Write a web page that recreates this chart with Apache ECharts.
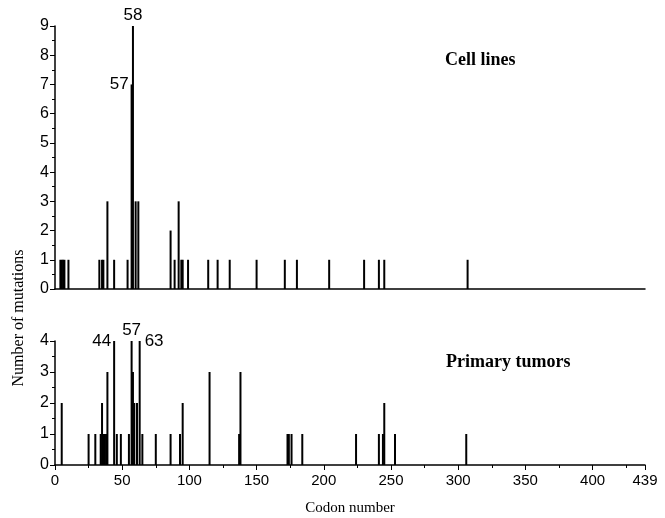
<!DOCTYPE html>
<html>
<head>
<meta charset="utf-8">
<script src="https://cdn.jsdelivr.net/npm/echarts@6/dist/echarts.min.js"></script>
<style>
  html, body { margin: 0; padding: 0; background: #fff; }
  #mutations { width: 665px; height: 518px; }
</style>
</head>
<body>
<div id="mutations"></div>
<script>
// codon positions and mutation counts
var cellCodons = [4, 5, 6, 7, 10, 33, 35, 36, 39, 44, 54, 57, 58, 60, 62, 86, 89, 92, 94, 95, 99, 114, 121, 130, 150, 171, 180, 204, 230, 241, 245, 307];
var cellCounts = [1, 1, 1, 1, 1, 1, 1, 1, 3, 1, 1, 7, 9, 3, 3, 2, 1, 3, 1, 1, 1, 1, 1, 1, 1, 1, 1, 1, 1, 1, 1, 1];
var tumorCodons = [5, 25, 30, 34, 35, 36, 37, 38, 39, 44, 46, 49, 55, 57, 58, 59, 61, 63, 65, 75, 86, 93, 95, 115, 137, 138, 173, 174, 176, 184, 224, 241, 244, 245, 253, 306];
var tumorCounts = [2, 1, 1, 1, 2, 1, 1, 1, 3, 4, 1, 1, 1, 4, 3, 2, 2, 4, 1, 1, 1, 1, 2, 3, 1, 3, 1, 1, 1, 1, 1, 1, 1, 2, 1, 1];
var cellLabelled = [57, 58];
var tumorLabelled = [44, 57, 63];
var xTicks = [0, 50, 100, 150, 200, 250, 300, 350, 400, 439];

var sansFont = '"Liberation Sans", Arial, sans-serif';
var serifFont = '"Liberation Serif", "Times New Roman", serif';

// where the codon number sits next to a tall bar
var labelSpots = {
    cell: { 57: 'left', 58: 'top' },
    tumor: { 44: 'left', 57: 'top', 63: 'right' }
};

function buildBars(codons, counts, labelled, spots) {
    return codons.map(function (c, i) {
        var item = { value: [c, counts[i]] };
        if (labelled.indexOf(c) >= 0) {
            var spot = spots[c];
            var lbl = {
                show: true,
                formatter: String(c),
                color: '#000',
                fontSize: 17,
                fontFamily: sansFont
            };
            if (spot === 'top') {
                lbl.position = 'top';
                lbl.distance = 2;
            } else if (spot === 'left') {
                lbl.position = [-2, 0];
                lbl.align = 'right';
                lbl.verticalAlign = 'middle';
            } else {
                lbl.position = [6, 0];
                lbl.align = 'left';
                lbl.verticalAlign = 'middle';
            }
            item.label = lbl;
        }
        return item;
    });
}

var chart = echarts.init(document.getElementById('mutations'));

function yAxisStyle(max) {
    return {
        type: 'value',
        min: 0,
        max: max,
        interval: 1,
        axisLine: { show: true, lineStyle: { color: '#000', width: 1.5 } },
        axisTick: { show: true, length: 5, lineStyle: { color: '#000' } },
        minorTick: { show: true, splitNumber: 2, length: 3, lineStyle: { color: '#000' } },
        axisLabel: { color: '#000', fontSize: 16, fontFamily: sansFont, margin: 6 },
        splitLine: { show: false }
    };
}

function getOption() {
    return {
        backgroundColor: '#fff',
        animation: false,
        grid: [
            { left: 55, right: 20, top: 26, height: 263 },
            { left: 55, right: 20, top: 341, height: 124 }
        ],
        xAxis: [
            {
                type: 'value',
                gridIndex: 0,
                min: 0,
                max: 439,
                interval: 50,
                axisLine: { show: true, onZero: false, lineStyle: { color: '#000', width: 1.5 } },
                axisTick: { show: false },
                axisLabel: { show: false },
                splitLine: { show: false }
            },
            {
                type: 'value',
                gridIndex: 1,
                min: 0,
                max: 439,
                interval: 50,
                axisLine: { show: true, onZero: false, lineStyle: { color: '#000', width: 1.5 } },
                axisTick: { show: true, length: 5, lineStyle: { color: '#000' } },
                minorTick: { show: true, splitNumber: 2, length: 3, lineStyle: { color: '#000' } },
                axisLabel: {
                    color: '#000',
                    fontSize: 15,
                    fontFamily: sansFont,
                    margin: 8,
                    customValues: xTicks
                },
                splitLine: { show: false },
                name: 'Codon number',
                nameLocation: 'middle',
                nameGap: 36,
                nameTextStyle: { color: '#000', fontSize: 15, fontFamily: serifFont }
            }
        ],
        yAxis: [
            Object.assign({ gridIndex: 0 }, yAxisStyle(9)),
            Object.assign({ gridIndex: 1 }, yAxisStyle(4))
        ],
        series: [
            {
                name: 'Cell lines',
                type: 'bar',
                xAxisIndex: 0,
                yAxisIndex: 0,
                barWidth: 2,
                itemStyle: { color: '#000' },
                data: buildBars(cellCodons, cellCounts, cellLabelled, labelSpots.cell)
            },
            {
                name: 'Primary tumors',
                type: 'bar',
                xAxisIndex: 1,
                yAxisIndex: 1,
                barWidth: 2,
                itemStyle: { color: '#000' },
                data: buildBars(tumorCodons, tumorCounts, tumorLabelled, labelSpots.tumor)
            }
        ],
        graphic: [
            {
                type: 'text',
                left: 445,
                top: 51,
                style: { text: 'Cell lines', fill: '#000', font: 'bold 18px ' + serifFont }
            },
            {
                type: 'text',
                left: 446,
                top: 353,
                style: { text: 'Primary tumors', fill: '#000', font: 'bold 18px ' + serifFont }
            },
            {
                type: 'text',
                x: 19,
                y: 318,
                rotation: Math.PI / 2,
                style: {
                    text: 'Number of mutations',
                    fill: '#000',
                    font: '16px ' + serifFont,
                    align: 'center',
                    verticalAlign: 'middle'
                }
            }
        ]
    };
}

chart.setOption(getOption());
</script>
</body>
</html>
